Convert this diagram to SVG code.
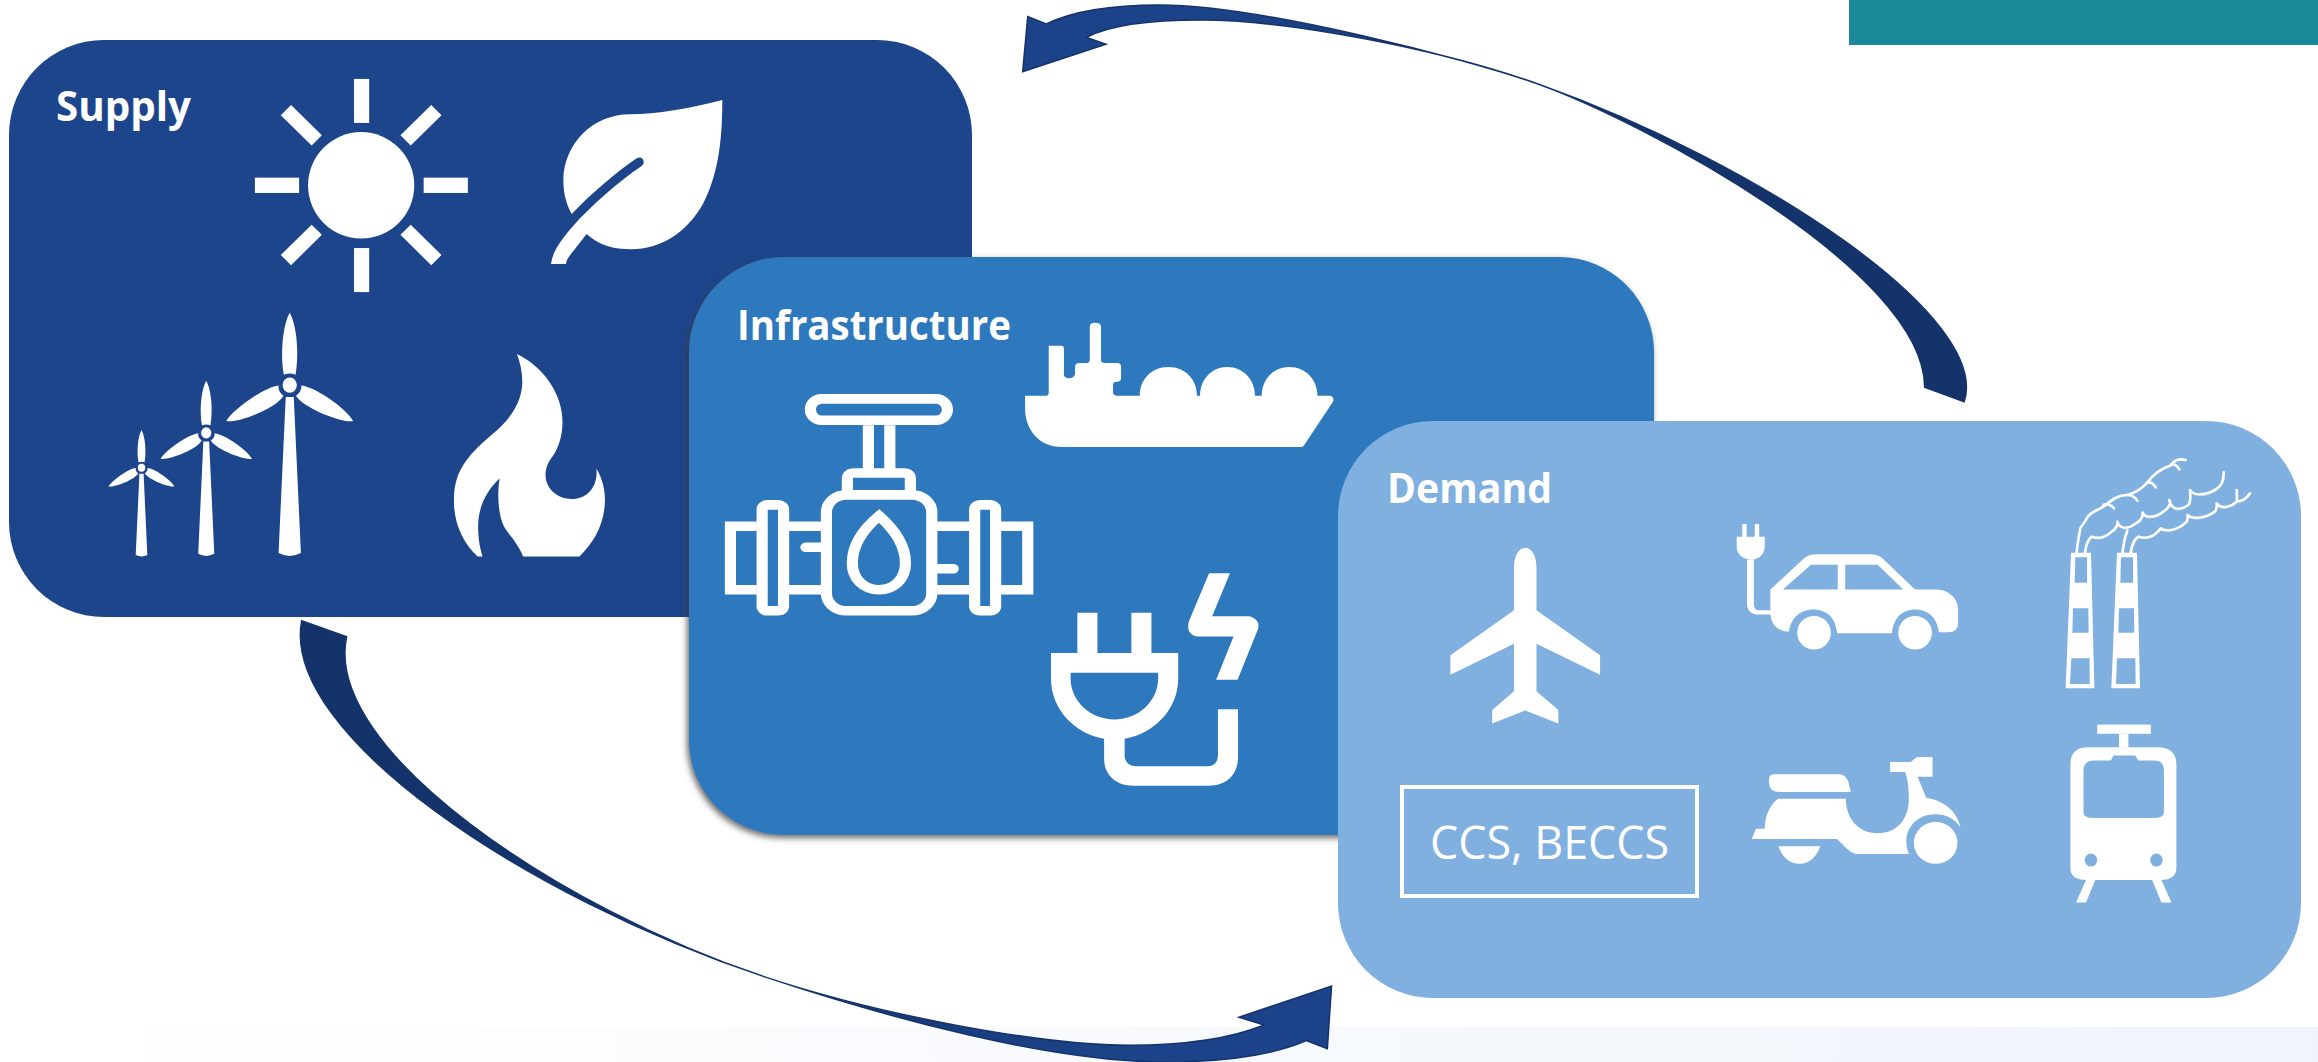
<svg xmlns="http://www.w3.org/2000/svg" xmlns:xlink="http://www.w3.org/1999/xlink" width="2318" height="1062" viewBox="0 0 2318 1062">
<style>
.w{fill:#fff}
.o{fill:none;stroke:#fff}
.t{font-family:"Open Sans","Noto Sans",sans-serif;font-weight:700;font-size:41px;fill:#fff}
.arrow{stroke:#14336b;stroke-width:1.5;stroke-linejoin:miter}
</style>
<defs>
<linearGradient id="band" x1="0" x2="1" y1="0" y2="0"><stop offset="0" stop-color="#fff"/><stop offset="1" stop-color="#eff4fb"/></linearGradient>
<linearGradient id="a1" x1="1" y1="1" x2="0" y2="0"><stop offset="0" stop-color="#14336b"/><stop offset=".6" stop-color="#14336b"/><stop offset=".9" stop-color="#1c4389"/></linearGradient>
<linearGradient id="a2" x1="0" y1="0" x2="1" y2="1"><stop offset="0" stop-color="#14336b"/><stop offset=".6" stop-color="#14336b"/><stop offset=".9" stop-color="#1c4389"/></linearGradient>
<filter id="sh" x="-5%" y="-5%" width="110%" height="110%"><feDropShadow dx="-2" dy="3" stdDeviation="3" flood-color="#3a3a3a" flood-opacity=".75"/></filter>
<g id="turbine">
<path class="w" d="M-9,31 H9 L25,439 Q0,454 -25,439 Z"/>
<ellipse class="w" cx="0" cy="0" rx="16" ry="20"/>
<path class="w" d="M-13,-27 C-21,-74 -17,-154 0,-189 C17,-154 21,-74 13,-27 Q0,-34 -13,-27 Z"/>
<path class="w" d="M-25,1 C-59,6 -129,66 -142,94 C-119,101 -29,61 -14,28 C-23,21 -26,11 -25,1 Z"/>
<path class="w" d="M26,1 C61,6 131,66 142,94 C121,101 31,61 14,28 C23,21 27,11 26,1 Z"/>
</g>
</defs>
<rect id="bg" width="2318" height="1062" fill="#fff"/>
<rect id="bottom-band" x="0" y="1027" width="2318" height="35" fill="url(#band)"/>
<rect id="teal-bar" x="1849" y="0" width="469" height="45" fill="#1a8a9a"/>

<g id="supply">
<rect x="9" y="40" width="963" height="577" rx="95" ry="95" fill="#1d458c"/>
<text class="t" x="56" y="121" textLength="135" lengthAdjust="spacingAndGlyphs">Supply</text>
<path id="leaf" class="w" transform="translate(540 80) scale(.33333)" d="M95,402 C75,365 70,330 70,300 C72,190 160,103 270,103 C350,103 450,85 547,60 C547,200 530,290 490,370 C440,460 360,508 275,508 C220,508 175,495 140,462 L110,500 C90,525 78,540 78,552 L33,552 C38,510 70,470 120,415 C170,365 235,305 305,258 C320,245 305,225 290,235 C225,280 155,340 95,402 Z"/>
<g transform="translate(0 20) scale(.44643 .38265)">
<g id="sun">
<ellipse class="w" cx="809" cy="432" rx="119" ry="139"/>
<rect class="w" x="793" y="154" width="34" height="115"/><rect class="w" x="793" y="596" width="34" height="115"/>
<rect class="w" x="571" y="412" width="99" height="40"/><rect class="w" x="949" y="412" width="99" height="40"/>
<polygon class="w" points="652,222 721,301 698,328 629,249"/><polygon class="w" points="966,222 989,249 920,328 897,301"/>
<polygon class="w" points="698,535 721,561 652,641 629,614"/><polygon class="w" points="920,535 989,614 966,641 897,561"/>
</g>
<use xlink:href="#turbine" href="#turbine" transform="translate(649 954)"/>
<use xlink:href="#turbine" href="#turbine" transform="translate(462 1079) scale(.72)"/>
<use xlink:href="#turbine" href="#turbine" transform="translate(317 1170) scale(.52)"/>
<path id="flame" class="w" d="M1158,873 C1215,905 1260,975 1260,1050 C1260,1090 1250,1120 1238,1140 C1228,1155 1222,1170 1222,1190 C1222,1225 1250,1252 1280,1252 C1312,1252 1340,1225 1336,1172 C1350,1200 1356,1230 1355,1260 C1353,1320 1330,1365 1298,1402 L1172,1402 C1160,1370 1145,1350 1135,1335 C1118,1310 1112,1250 1119,1198 C1085,1235 1070,1280 1071,1330 C1072,1360 1075,1380 1081,1402 L1070,1402 C1035,1365 1015,1310 1017,1250 C1018,1180 1045,1140 1100,1085 C1150,1040 1170,990 1170,945 C1170,920 1165,895 1158,873 Z"/>
</g>
</g>

<g id="infrastructure">
<rect x="689" y="257" width="965" height="578" rx="95" ry="95" fill="#2f78bd" filter="url(#sh)"/>
<text class="t" x="737" y="340" textLength="274" lengthAdjust="spacingAndGlyphs">Infrastructure</text>
<g transform="translate(680 250) scale(.44643 .38265)">
<path id="ship" class="w" d="M773,381 L820,381 Q826,381 826,372 L826,250 L855,250 Q860,250 860,258 L860,325 Q860,335 870,335 Q885,335 885,322 L885,305 Q885,295 895,295 L912,295 Q918,295 918,285 L918,200 Q918,190 930,190 Q943,190 943,200 L943,287 Q943,295 950,295 L980,295 Q988,295 988,305 L988,335 Q988,345 975,345 Q970,345 970,355 L970,372 Q970,381 980,381 L1030,381 C1030,340 1055,306 1094,306 C1133,306 1158,340 1158,381 L1165,381 C1165,340 1190,306 1226,306 C1262,306 1288,340 1288,381 L1303,381 C1303,340 1328,306 1365,306 C1402,306 1428,340 1428,381 L1458,381 Q1466,385 1463,396 L1398,510 Q1395,515 1390,515 L855,515 C805,515 773,470 773,415 Z"/>
<g id="valve" class="o" stroke-width="25">
<rect x="292" y="389" width="307" height="56" rx="25" ry="28"/>
<path d="M422,458 V583 M470,458 V583"/>
<path d="M375,640 V598 Q375,583 390,583 H502 Q516,583 516,598 V640"/>
<rect x="328" y="640" width="236" height="303" rx="45" ry="45"/>
<path d="M446,695 C410,730 386,770 386,818 C386,860 412,888 446,888 C480,888 505,860 505,818 C505,770 480,730 446,695 Z"/>
<rect x="184" y="666" width="48" height="277" rx="12"/>
<rect x="660" y="666" width="47" height="277" rx="12"/>
<path d="M172,722 H113 V888 H172 M719,722 H779 V888 H719 M244,722 H316 M244,888 H316 M576,722 H648 M576,888 H648"/>
<path stroke-linecap="round" d="M316,777 H282 M576,833 H612"/>
</g>
<g id="plug">
<rect class="w" x="890" y="948" width="45" height="110"/><rect class="w" x="1011" y="948" width="45" height="110"/>
<path class="w" fill-rule="evenodd" d="M831,1053 H1116 V1120 C1116,1200 1062,1265 996,1277 V1320 Q996,1349 1025,1349 H1180 Q1205,1349 1205,1320 V1200 H1250 V1325 C1250,1370 1225,1400 1185,1400 H1015 C975,1400 950,1370 950,1330 V1277 C884,1265 831,1200 831,1120 Z M875,1105 V1120 C875,1179 919,1227 973,1227 C1027,1227 1071,1179 1071,1120 V1105 Z"/>
<path class="w" d="M1185,845 H1232 L1192,957 H1275 Q1300,965 1295,990 L1249,1123 H1201 L1240,1010 H1160 Q1132,1005 1140,970 Z"/>
</g>
</g>
</g>

<g id="demand">
<rect x="1338" y="421" width="963" height="577" rx="95" ry="95" fill="#7fb0e0"/>
<text class="t" x="1387" y="503" textLength="165" lengthAdjust="spacingAndGlyphs">Demand</text>
<g transform="translate(1340 420) scale(.62372 .38265)">
<path id="plane" class="w" d="M297,334 C285,334 279,360 279,385 L279,497 L177,615 V666 L279,585 V709 L244,758 V793 L297,759 L350,793 V758 L315,709 V585 L417,666 V615 L315,497 V385 C315,360 309,334 297,334 Z"/>
<g id="car">
<rect class="w" x="645" y="272" width="7" height="35"/><rect class="w" x="665" y="272" width="7" height="35"/>
<path class="w" d="M636,305 H681 V330 C681,350 672,365 660,365 C645,365 636,350 636,330 Z"/>
<path class="o" stroke-width="11" d="M658,365 V478 Q658,503 672,503 H695"/>
<path class="w" fill-rule="evenodd" d="M690,443 L745,360 Q752,351 765,351 H850 Q862,351 870,362 L922,443 H955 C975,443 991,465 991,495 V530 Q991,555 975,555 H960 C958,520 945,495 922,495 C900,495 887,520 885,557 H797 C795,520 782,495 759,495 C737,495 722,520 720,553 C700,553 692,530 690,510 Z M710,443 H798 V378 H755 Z M810,378 V443 H903 L862,378 Z"/>
<ellipse class="w" cx="760" cy="556" rx="27" ry="44"/><ellipse class="w" cx="922" cy="556" rx="27" ry="44"/>
</g>
<g id="scooter">
<path class="w" d="M695,926 H800 Q810,926 815,945 L819,972 H705 Q688,972 688,950 Q686,926 695,926 Z"/>
<path class="w" d="M702,990 H811 C811,1040 830,1080 862,1080 C895,1080 912,1040 912,990 C912,960 910,940 906,920 H882 V894 H915 L925,881 H950 V932 H926 L940,987 C970,995 990,1025 995,1065 C985,1040 970,1030 955,1030 C925,1030 908,1065 908,1100 C908,1115 910,1125 912,1134 H830 C820,1134 812,1120 797,1095 H660 L667,1068 H681 C681,1040 687,1010 702,990 Z"/>
<ellipse class="w" cx="955" cy="1105" rx="35" ry="55"/>
<path class="w" d="M703,1114 H770 C765,1140 752,1160 737,1160 C720,1160 708,1140 703,1114 Z"/>
</g>
<g id="tram">
<rect class="w" x="1214" y="796" width="86" height="24"/><rect class="w" x="1249" y="820" width="15" height="36"/>
<path class="w" fill-rule="evenodd" d="M1200,855 H1310 Q1341,855 1341,900 V1170 Q1341,1202 1315,1202 H1197 Q1171,1202 1171,1170 V900 Q1171,855 1200,855 Z M1210,890 H1236 L1240,877 H1275 L1280,890 H1305 Q1321,890 1321,915 V1025 Q1321,1040 1305,1040 H1208 Q1192,1040 1192,1025 V915 Q1192,890 1210,890 Z M1194,1150 a10,17 0 1 0 20,0 a10,17 0 1 0 -20,0 Z M1299,1150 a10,17 0 1 0 20,0 a10,17 0 1 0 -20,0 Z"/>
<polygon class="w" points="1196,1202 1211,1202 1196,1261 1180,1261"/><polygon class="w" points="1302,1202 1317,1202 1333,1261 1317,1261"/>
</g>
</g>
<g id="factory" transform="translate(2040 440) scale(.33333)">
<path class="w" fill-rule="evenodd" d="M93,338 H153 L163,745 H77 Z M106,352 H141 V428 H104 Z M99,505 H145 L146,578 H97 Z M94,655 H149 V732 H90 Z"/>
<path class="w" fill-rule="evenodd" d="M231,338 H291 L300,745 H214 Z M243,352 H279 V428 H241 Z M237,505 H282 L283,578 H235 Z M231,655 H286 L287,732 H228 Z"/>
<g class="o" stroke-width="8" stroke-linecap="round" stroke-linejoin="round">
<path d="M110,338 C112,310 118,285 120,270 C122,255 135,250 140,235 C150,215 175,210 190,200 C210,185 230,165 260,165 C285,160 300,150 320,130 C340,100 365,85 395,75 C400,60 420,55 437,60"/>
<path d="M190,195 C200,190 215,195 222,205 M260,165 C275,165 285,170 292,182 M320,128 C330,125 340,130 347,142 M395,72 C405,72 412,78 418,88"/>
<path d="M135,338 C138,315 142,300 155,290 C175,297 195,295 215,275 C225,270 235,255 232,245 C238,265 260,270 280,255 C300,245 310,235 308,218 C315,235 345,235 370,215 C385,205 395,190 388,180 C395,215 425,210 445,195 C455,185 450,165 450,150 C460,170 500,165 525,150 C545,140 552,120 551,97"/>
<path d="M248,338 C250,315 255,290 262,272"/>
<path d="M272,338 C275,320 280,300 295,290 C320,298 345,290 362,265 C375,275 410,275 440,245 C445,235 442,225 442,225 C460,240 495,235 525,215 C532,205 530,195 530,190 C545,210 575,200 590,185 C605,185 620,175 630,160 M590,185 C592,175 590,160 590,150"/>
</g>
</g>
<g id="ccs">
<rect x="1402" y="787" width="295" height="109" fill="none" stroke="#fff" stroke-width="4"/>
<text x="1430" y="859" font-family="Open Sans,Noto Sans,sans-serif" font-size="45" fill="#fff" textLength="239" lengthAdjust="spacingAndGlyphs">CCS, BECCS</text>
</g>
</g>

<g id="connectors">
<g transform="translate(1000 0) scale(.8406 .33333)">
<path class="arrow" fill="url(#a1)" vector-effect="non-scaling-stroke" d="M1147,1205 C1180,950 900,486 640,252 C560,180 310,15 190,15 C130,15 85,35 55,72 L33,50 L27,215 L126,133 L103,112 C130,75 175,60 240,60 C340,60 520,144 640,252 C760,360 1100,810 1100,1162 Z"/>
</g>
<g transform="translate(280 600) scale(.7015 .33333)">
<path class="arrow" fill="url(#a2)" vector-effect="non-scaling-stroke" d="M31,62 C0,400 350,892 690,1130 C870,1256 1100,1386 1260,1386 C1340,1386 1410,1370 1463,1322 L1493,1346 L1499,1158 L1367,1252 L1403,1275 C1350,1320 1280,1336 1210,1336 C1090,1336 860,1249 690,1130 C400,927 60,450 95,110 Z"/>
</g>
</g>
</svg>
